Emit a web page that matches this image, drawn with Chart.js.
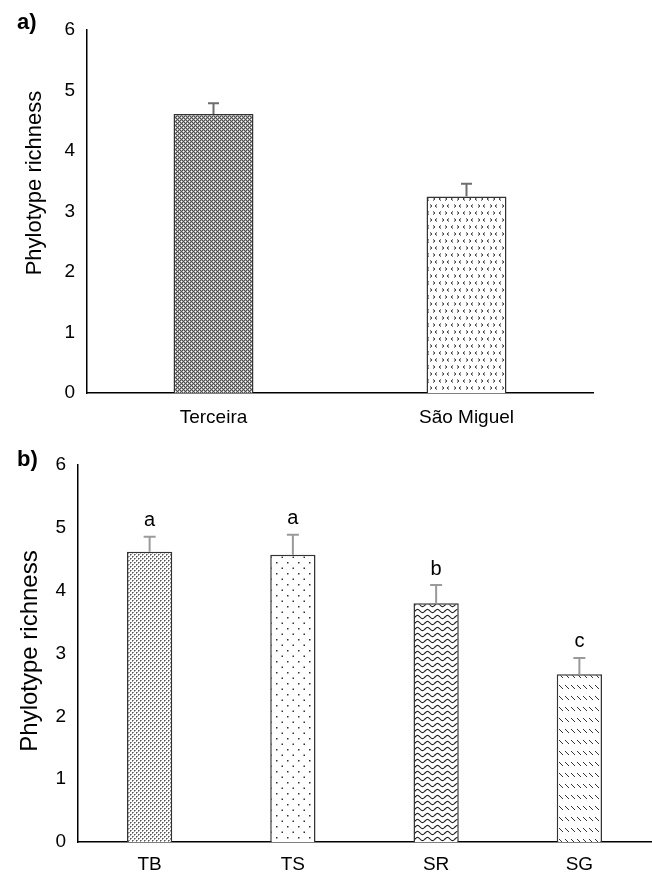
<!DOCTYPE html>
<html>
<head>
<meta charset="utf-8">
<script src="https://cdn.jsdelivr.net/npm/chart.js@4.4.0/dist/chart.umd.min.js"></script>
<style>
  html, body { margin: 0; padding: 0; background: #fff; }
  .panel { position: absolute; left: 0; width: 652px; }
  #panelA { top: 0; height: 440px; }
  #panelB { top: 440px; height: 432px; }
</style>
</head>
<body>
<div class="panel" id="panelA"><canvas id="chartA"></canvas></div>
<div class="panel" id="panelB"><canvas id="chartB"></canvas></div>
<script>
// panel a) - islands
const islandLabels = ["Terceira", "São Miguel"];
const islandMeans = [4.61, 3.25];
const islandErrors = [0.18, 0.21];

// panel b) - sites
const siteLabels = ["TB", "TS", "SR", "SG"];
const siteMeans = [4.62, 4.57, 3.8, 2.67];
const siteErrors = [0.24, 0.32, 0.29, 0.26];
const siteLetters = ["a", "a", "b", "c"];

// y axis
const yMin = 0;
const yMax = 6;
const yStep = 1;
const yTitle = "Phylotype richness";

const FONT = '"Liberation Sans", Arial, sans-serif';
Chart.defaults.font.family = FONT;
Chart.defaults.color = "#000";

// small fill patterns, like the excel ones
function makePattern(w, h, draw) {
  const c = document.createElement("canvas");
  c.width = w;
  c.height = h;
  const g = c.getContext("2d");
  g.fillStyle = "#fff";
  g.fillRect(0, 0, w, h);
  draw(g);
  return g.createPattern(c, "repeat");
}

const patTerceira = makePattern(4, 4, (g) => {
  g.fillStyle = "#4d4d4d";
  g.fillRect(0, 0, 4, 4);
  g.fillStyle = "#a8a8a8";
  [[0, 1], [2, 1], [1, 0], [1, 2], [3, 2], [3, 0], [2, 3], [0, 3]].forEach((p) => g.fillRect(p[0], p[1], 1, 1));
  g.fillStyle = "#fff";
  g.fillRect(1, 1, 1, 1);
  g.fillRect(3, 3, 1, 1);
});

const patSaoMiguel = makePattern(12, 14, (g) => {
  g.strokeStyle = "#333";
  g.lineWidth = 1;
  g.beginPath();
  // row 1: > <
  g.moveTo(1, 1.5); g.lineTo(3, 3); g.lineTo(1, 4.5);
  g.moveTo(9, 1.5); g.lineTo(7, 3); g.lineTo(9, 4.5);
  // row 2: < >
  g.moveTo(5, 8.5); g.lineTo(3, 10); g.lineTo(5, 11.5);
  g.moveTo(10, 8.5); g.lineTo(12, 10); g.lineTo(10, 11.5);
  g.stroke();
});

const patTB = makePattern(4, 4, (g) => {
  g.fillStyle = "#999";
  [[1, 0], [0, 1], [3, 2], [2, 3]].forEach((p) => g.fillRect(p[0], p[1], 1, 1));
  g.fillStyle = "#555";
  g.fillRect(0, 0, 1, 1);
  g.fillRect(2, 2, 1, 1);
});

const patTS = makePattern(11, 11, (g) => {
  g.fillStyle = "#333";
  g.fillRect(1, 1, 1.5, 1.5);
  g.fillRect(6.5, 6.5, 1.5, 1.5);
});

const patSR = makePattern(10, 6, (g) => {
  g.strokeStyle = "#222";
  g.lineWidth = 1.1;
  g.beginPath();
  for (let x = 0; x <= 10; x += 0.5) {
    const y = 3 + 1.6 * Math.sin((2 * Math.PI * x) / 10);
    if (x === 0) g.moveTo(x, y);
    else g.lineTo(x, y);
  }
  g.stroke();
});

const patSG = makePattern(6, 11, (g) => {
  g.strokeStyle = "#333";
  g.lineWidth = 1;
  g.beginPath();
  g.moveTo(1, 3);
  g.lineTo(5, 7);
  g.stroke();
});

// error bars (+ optional letters) drawn from the y scale
const errorBars = {
  id: "errorBars",
  afterDatasetsDraw(chart, args, o) {
    const ctx = chart.ctx;
    const yScale = chart.scales.y;
    const ds = chart.data.datasets[0];
    const meta = chart.getDatasetMeta(0);
    ctx.save();
    meta.data.forEach((bar, i) => {
      const top = yScale.getPixelForValue(ds.data[i] + o.errors[i]);
      ctx.strokeStyle = o.color;
      ctx.lineWidth = o.width;
      ctx.beginPath();
      ctx.moveTo(bar.x, bar.y);
      ctx.lineTo(bar.x, top);
      ctx.moveTo(bar.x - o.cap / 2, top);
      ctx.lineTo(bar.x + o.cap / 2, top);
      ctx.stroke();
      if (o.letters) {
        ctx.fillStyle = "#000";
        ctx.font = "20px " + FONT;
        ctx.textAlign = "center";
        ctx.textBaseline = "middle";
        ctx.fillText(o.letters[i], bar.x, top - o.letterGap);
      }
    });
    ctx.restore();
  },
};

// panel tag and rotated y title
const panelText = {
  id: "panelText",
  afterDraw(chart, args, o) {
    const ctx = chart.ctx;
    ctx.save();
    ctx.fillStyle = "#000";
    ctx.font = "bold 22px " + FONT;
    ctx.textAlign = "left";
    ctx.textBaseline = "alphabetic";
    ctx.fillText(o.tag, o.tagX, o.tagY);
    ctx.translate(o.titleX, o.titleY);
    ctx.rotate(-Math.PI / 2);
    ctx.font = o.titleSize + "px " + FONT;
    ctx.textAlign = "center";
    ctx.textBaseline = "middle";
    ctx.fillText(yTitle, 0, 0);
    ctx.restore();
  },
};

function axisOptions(xHeight, yWidth, xPad) {
  return {
    x: {
      grid: { display: false, drawTicks: false },
      border: { color: "#000", width: 1.5 },
      ticks: { color: "#000", font: { size: 19 }, padding: xPad },
      afterFit: (s) => { s.height = xHeight; },
    },
    y: {
      min: yMin,
      max: yMax,
      grid: { display: false, drawTicks: false },
      border: { color: "#000", width: 1.5 },
      ticks: { stepSize: yStep, color: "#000", font: { size: 19 }, padding: 12 },
      afterFit: (s) => { s.width = yWidth; },
    },
  };
}

function drawIslandChart() {
  const ctx = document.getElementById("chartA").getContext("2d");
  new Chart(ctx, {
    type: "bar",
    data: {
      labels: islandLabels,
      datasets: [
        {
          data: islandMeans,
          backgroundColor: [patTerceira, patSaoMiguel],
          borderColor: "#333",
          borderWidth: 1.5,
          borderSkipped: "bottom",
          barPercentage: 0.316,
          categoryPercentage: 1,
        },
      ],
    },
    options: {
      responsive: true,
      maintainAspectRatio: false,
      animation: false,
      layout: { padding: { top: 30, right: 59, left: 0, bottom: 0 } },
      plugins: {
        legend: { display: false },
        tooltip: { enabled: false },
        errorBars: { errors: islandErrors, color: "#6e6e6e", width: 2, cap: 11 },
        panelText: { tag: "a)", tagX: 17, tagY: 29, titleX: 35, titleY: 183, titleSize: 22 },
      },
      scales: axisOptions(47, 87, 13),
    },
    plugins: [errorBars, panelText],
  });
}

function drawSiteChart() {
  const ctx = document.getElementById("chartB").getContext("2d");
  new Chart(ctx, {
    type: "bar",
    data: {
      labels: siteLabels,
      datasets: [
        {
          data: siteMeans,
          backgroundColor: [patTB, patTS, patSR, patSG],
          borderColor: "#333",
          borderWidth: 1.5,
          borderSkipped: "bottom",
          barPercentage: 0.316,
          categoryPercentage: 1,
        },
      ],
    },
    options: {
      responsive: true,
      maintainAspectRatio: false,
      animation: false,
      layout: { padding: { top: 25, right: 1, left: 0, bottom: 0 } },
      plugins: {
        legend: { display: false },
        tooltip: { enabled: false },
        errorBars: { errors: siteErrors, color: "#9a9a9a", width: 2, cap: 12, letters: siteLetters, letterGap: 16 },
        panelText: { tag: "b)", tagX: 17, tagY: 26, titleX: 30, titleY: 211, titleSize: 24 },
      },
      scales: axisOptions(30, 78, 11),
    },
    plugins: [errorBars, panelText],
  });
}

drawIslandChart();
drawSiteChart();
</script>
</body>
</html>
